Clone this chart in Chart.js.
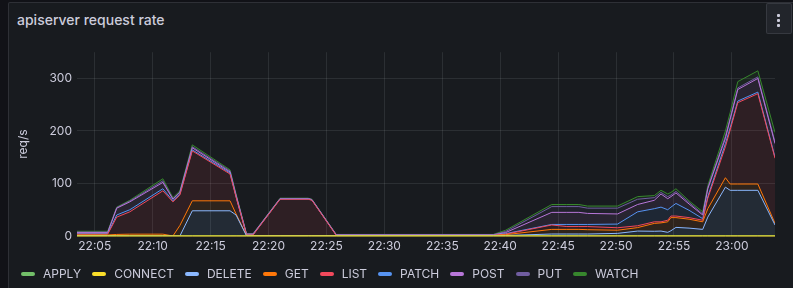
<!DOCTYPE html>
<html>
<head>
<meta charset="utf-8">
<script src="https://cdn.jsdelivr.net/npm/chart.js"></script>
<style>
  html, body { margin: 0; padding: 0; background: #111217; }
  body { width: 793px; height: 288px; overflow: hidden; position: relative; font-family: Inter, "Noto Sans", sans-serif; }
  .panel { position: absolute; left: 8px; top: 2px; width: 800px; height: 290px; background: #181b1f; border: 1px solid rgba(204,204,220,0.12); border-radius: 2px; box-sizing: border-box; }
  .title { position: absolute; left: 17px; top: 9px; line-height: 21px; font-size: 14px; font-weight: 500; color: #ccccdc; }
  .menu { position: absolute; left: 766px; top: 3px; width: 26px; height: 31px; background: #22252b; border: 1px solid rgba(204,204,220,0.12); border-radius: 2px; box-sizing: border-box; }
  .menu span { position: absolute; left: 10px; width: 3px; height: 3px; background: #ccccdc; border-radius: 1px; }
  .chart-box { position: absolute; left: 8px; top: 40px; width: 782px; height: 246px; }
  .legend { position: absolute; left: 21px; top: 266px; display: flex; font-size: 12px; color: #ccccdc; line-height: 16px; }
  .legend .item { display: flex; align-items: center; margin-right: 11px; }
  .legend .mark { width: 14px; height: 4px; border-radius: 2px; margin-right: 8px; }
</style>
</head>
<body>
<div class="panel"></div>
<div class="title">apiserver request rate</div>
<div class="menu"><span style="top:10px"></span><span style="top:15px"></span><span style="top:20px"></span></div>
<div class="chart-box"><canvas id="chart"></canvas></div>
<div class="legend" id="legend"></div>
<script>
// minutes after 22:00
const times = [3.47, 6.12, 6.9, 8.03, 10.88, 11.75, 12.35, 13.42, 16.68, 17.2, 18.1, 18.67, 21.0, 23.43, 23.75, 25.85,
  39.4, 40.47, 44.45, 45.75, 46.79, 47.54, 50.13, 51.86, 53.3, 53.88, 54.46, 54.74, 55.17, 56.3, 57.48, 57.92,
  59.44, 59.85, 60.51, 62.24, 63.72];
const xTicks = [5, 10, 15, 20, 25, 30, 35, 40, 45, 50, 55, 60];
const yTicks = [0, 100, 200, 300];

const verbs = ['APPLY', 'CONNECT', 'DELETE', 'GET', 'LIST', 'PATCH', 'POST', 'PUT', 'WATCH'];
const colors = ['#73BF69', '#FADE2A', '#8AB8FF', '#FF780A', '#F2495C', '#5794F2', '#B877D9', '#705DA0', '#37872D'];

const apply = times.map(() => 0);
const connect = times.map(() => 0);
const del = [1, 1, 0.5, 0.5, 0.5, 0, 0, 48, 48, 40, 0.5, 0.5, 0.3, 0.3, 0.3, 0.5,
  0.5, 1, 3.8, 3.8, 3.8, 3.8, 5, 9.4, 9, 9.4, 7, 10, 16.4, 15, 12.6, 36,
  93, 87, 87, 87, 21];
const get = [1, 1, 2.5, 3, 3, 0, 20, 19, 19, 2, 0.5, 0.5, 0.5, 0.5, 0.5, 0.3,
  0.3, 1.5, 8.8, 8.8, 8.8, 8.2, 6, 6.6, 15, 15.6, 20, 25, 18.6, 17, 14.4, 16,
  18, 12, 12, 12, 3];
const list = [1.5, 1.5, 33, 42.5, 82.5, 65, 58, 95, 51, 32, 1, 1, 69.2, 69.2, 67.2, 0.5,
  0.5, 1, 8.4, 5.4, 5.4, 6, 4.7, 3.5, 3, 2, 3, 3, 3, 3, 3, 20,
  59, 103, 155, 172, 124];
const patch = [1, 1, 4, 4, 4, 2, 2, 2, 2, 1, 0.5, 0.5, 0.5, 0.5, 0.5, 0.3,
  0.3, 1, 1, 4, 4, 4, 7, 26.5, 25, 28, 20, 17, 24, 14, 3, 3,
  6, 4, 3, 3, 2];
const post = [2, 2, 13, 15, 12, 3, 3, 4, 2, 2, 1, 1, 0.5, 0.5, 0.5, 0.5,
  0.5, 2, 23, 23, 23, 21, 19.3, 14, 16, 25, 21, 20, 20, 12, 7, 15,
  10, 16, 22, 26, 26];
const put = [1, 1, 1, 1.5, 3, 1, 1, 2, 2, 1, 0.5, 0.5, 0.5, 0.5, 0.5, 0.4,
  0.4, 2, 11, 11, 11, 10, 11, 10, 5, 3, 4, 3, 3, 3, 2, 2,
  4, 3, 3, 3, 3];
const watch = [1.5, 1.5, 1, 1.5, 4, 2, 2, 3.5, 2, 2, 0.5, 0.5, 0.5, 0.5, 0.5, 0.5,
  0.5, 2.5, 4, 4, 4, 4, 4, 5, 4, 4, 5, 5, 5, 3, 4, 4,
  10, 10, 12, 11.5, 18];

const series = [apply, connect, del, get, list, patch, post, put, watch];

const legend = document.getElementById('legend');
verbs.forEach((v, i) => {
  legend.insertAdjacentHTML('beforeend',
    '<div class="item"><span class="mark" style="background:' + colors[i] + '"></span>' + v + '</div>');
});

// grafana draws the yellow CONNECT line above APPLY at zero
const connectOnTop = {
  id: 'connectOnTop',
  afterDatasetsDraw(chart) {
    const area = chart.chartArea;
    const ctx = chart.ctx;
    ctx.save();
    ctx.beginPath();
    ctx.rect(area.left, area.top - 2, area.width, area.height + 4);
    ctx.clip();
    chart.getDatasetMeta(1).dataset.draw(ctx, area);
    ctx.restore();
  }
};

const fmt = (v) => {
  const h = 22 + Math.floor(v / 60);
  const m = Math.round(v % 60);
  return h + ':' + String(m).padStart(2, '0');
};

new Chart(document.getElementById('chart'), {
  type: 'line',
  data: {
    datasets: series.map((vals, i) => ({
      label: verbs[i],
      data: vals.map((y, j) => ({ x: times[j], y })),
      borderColor: colors[i],
      backgroundColor: colors[i] + '1a',
      borderWidth: 1,
      pointRadius: 0,
      tension: 0,
      fill: i === 0 ? 'origin' : '-1',
    })),
  },
  options: {
    responsive: true,
    maintainAspectRatio: false,
    animation: false,
    events: [],
    layout: { padding: { top: 10, right: 15, bottom: 30, left: 0 } },
    plugins: { legend: { display: false }, tooltip: { enabled: false } },
    scales: {
      x: {
        type: 'linear',
        min: 3.47,
        max: 63.72,
        afterBuildTicks: (s) => { s.ticks = xTicks.map(value => ({ value })); },
        afterFit: (s) => { s.height = 20; },
        ticks: { autoSkip: false, maxRotation: 0, padding: 3, color: '#ccccdc', font: { family: 'Inter', size: 12 }, callback: fmt },
        grid: { color: 'rgba(240,250,255,0.09)', drawTicks: false },
        border: { display: false },
      },
      y: {
        stacked: true,
        min: 0,
        max: 350,
        afterBuildTicks: (s) => { s.ticks = yTicks.map(value => ({ value })); },
        afterFit: (s) => { s.width = 69; },
        ticks: { padding: 5, color: '#ccccdc', font: { family: 'Inter', size: 12 } },
        grid: { color: 'rgba(240,250,255,0.09)', drawTicks: false },
        border: { display: false },
        title: { display: true, text: 'req/s', color: '#ccccdc', font: { family: 'Inter', size: 12 }, padding: { top: 8, bottom: 0 } },
      },
    },
  },
  plugins: [connectOnTop],
});
</script>
</body>
</html>
